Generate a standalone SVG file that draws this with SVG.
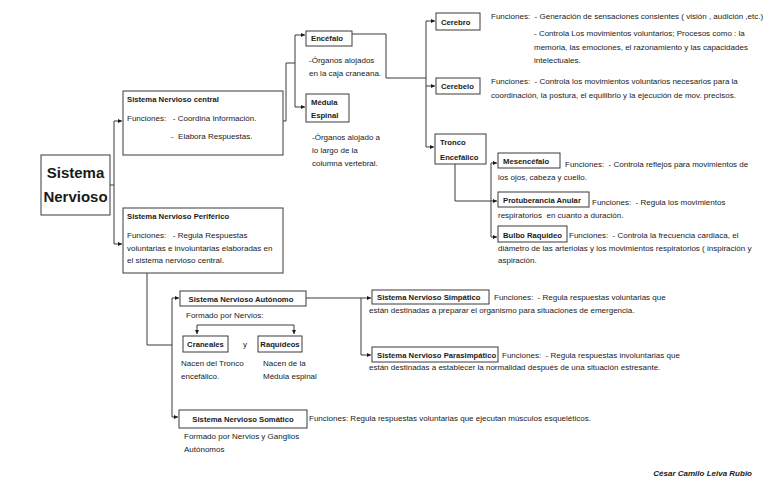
<svg xmlns="http://www.w3.org/2000/svg" width="768" height="497" viewBox="0 0 768 497">
<style>
text{font-family:"Liberation Sans",Arial,sans-serif;font-size:8px;fill:#1a1a1a;white-space:pre}
.b{font-weight:bold;font-size:7.7px}
.big{font-weight:bold;font-size:15px;text-anchor:middle}
.m{text-anchor:middle}
.sig{font-weight:bold;font-style:italic;text-anchor:end}
.box{fill:#fff;stroke:#3a3a3a;stroke-width:1}
.ln{fill:none;stroke:#3a3a3a;stroke-width:1}
.ar{marker-end:url(#ah)}
</style>
<defs>
<marker id="ah" markerWidth="5" markerHeight="5" refX="4" refY="2.5" orient="auto" markerUnits="userSpaceOnUse">
<path d="M0,0.5 L4,2.5 L0,4.5 z" fill="#1a1a1a"/>
</marker>
</defs>
<rect width="768" height="497" fill="#fff"/>
<g id="connectors">
<path class="ln" d="M110,185 H114"/>
<path class="ln ar" d="M114,185 V121 H122"/>
<path class="ln ar" d="M114,185 V244 H122"/>
<path class="ln ar" d="M283,121 H286 V63 H295 V35 H305"/>
<path class="ln ar" d="M295,63 V107 H305"/>
<path class="ln" d="M352,34 H386 V78 H426"/>
<path class="ln ar" d="M426,78 V21 H435"/>
<path class="ln ar" d="M426,78 V86 H435"/>
<path class="ln ar" d="M426,86 V147 H434"/>
<path class="ln" d="M455,164 V201 H491"/>
<path class="ln ar" d="M491,201 V163 H497"/>
<path class="ln ar" d="M491,201 H497"/>
<path class="ln ar" d="M491,201 V237 H497"/>
<path class="ln" d="M147,273 V345 H172"/>
<path class="ln ar" d="M172,345 V298 H179"/>
<path class="ln ar" d="M172,345 V417 H178"/>
<path class="ln ar" d="M245,325 H197 V334"/>
<path class="ln ar" d="M245,325 H294 V334"/>
<path class="ln ar" d="M306,298 H371"/>
<path class="ln ar" d="M361,298 V355 H371"/>
</g>
<g id="sistema-nervioso">
<rect class="box" x="41" y="155" width="69" height="60"/>
<text class="big" x="75.5" y="178">Sistema</text>
<text class="big" x="75.5" y="202">Nervioso</text>
</g>
<g id="snc">
<rect class="box" x="123" y="91" width="160" height="64"/>
<text class="b" x="127" y="102">Sistema Nervioso central</text>
<text x="127" y="121">Funciones:   - Coordina Información.</text>
<text x="171" y="139">-  Elabora Respuestas.</text>
</g>
<g id="encefalo">
<rect class="box" x="306" y="31" width="46" height="15"/>
<text class="b" x="311" y="41">Encéfalo</text>
<text x="309" y="63">-Órganos alojados</text>
<text x="309" y="76">en la caja craneana.</text>
</g>
<g id="medula">
<rect class="box" x="306" y="94" width="43" height="28"/>
<text class="b" x="311" y="105">Médula</text>
<text class="b" x="311" y="118">Espinal</text>
<text x="312" y="140">-Órganos alojado a</text>
<text x="312" y="153">lo largo de la</text>
<text x="312" y="166">columna vertebral.</text>
</g>
<g id="cerebro">
<rect class="box" x="436" y="13" width="44" height="17"/>
<text class="b" x="441" y="25">Cerebro</text>
<text x="491" y="19">Funciones:  - Generación de sensaciones consientes ( visión , audición ,etc.)</text>
<text x="534" y="36">- Controla Los movimientos voluntarios; Procesos como : la</text>
<text x="534" y="50">memoria, las emociones, el razonamiento y las capacidades</text>
<text x="534" y="63">intelectuales.</text>
</g>
<g id="cerebelo">
<rect class="box" x="436" y="78" width="44" height="16"/>
<text class="b" x="441" y="89">Cerebelo</text>
<text x="491" y="84">Funciones:  - Controla los movimientos voluntarios necesarios para la</text>
<text x="491" y="98">coordinación, la postura, el equilibrio y la ejecución de mov. precisos.</text>
</g>
<g id="tronco">
<rect class="box" x="435" y="134" width="51" height="30"/>
<text class="b" x="440" y="145">Tronco</text>
<text class="b" x="440" y="160">Encefálico</text>
</g>
<g id="mesencefalo">
<rect class="box" x="498" y="153" width="62" height="15"/>
<text class="b" x="503" y="164">Mesencéfalo</text>
<text x="565" y="167">Funciones:  - Controla reflejos para movimientos de</text>
<text x="498" y="180">los ojos, cabeza y cuello.</text>
</g>
<g id="protuberancia">
<rect class="box" x="498" y="192" width="91" height="15"/>
<text class="b" x="503" y="203">Protuberancia Anular</text>
<text x="592" y="205">Funciones:  - Regula los movimientos</text>
<text x="498" y="218">respiratorios  en cuanto a duración.</text>
</g>
<g id="bulbo">
<rect class="box" x="498" y="226" width="69" height="16"/>
<text class="b" x="503" y="238">Bulbo Raquideo</text>
<text x="569" y="238">Funciones:  - Controla la frecuencia cardiaca, el</text>
<text x="498" y="251">diámetro de las arteriolas y los movimientos respiratorios ( inspiración y</text>
<text x="498" y="263">aspiración.</text>
</g>
<g id="snp">
<rect class="box" x="123" y="208" width="160" height="65"/>
<text class="b" x="127" y="219">Sistema Nervioso Periférico</text>
<text x="127" y="238">Funciones:   - Regula Respuestas</text>
<text x="127" y="251">voluntarias e involuntarias elaboradas en</text>
<text x="127" y="263">el sistema nervioso central.</text>
</g>
<g id="sna">
<rect class="box" x="180" y="291" width="126" height="15"/>
<text class="b m" x="241" y="302">Sistema Nervioso Autónomo</text>
<text x="186" y="318">Formado por Nervios:</text>
</g>
<g id="craneales">
<rect class="box" x="183" y="336" width="45" height="16"/>
<text class="b m" x="205.5" y="347">Craneales</text>
<text x="243" y="347">y</text>
<text x="181" y="366">Nacen del Tronco</text>
<text x="181" y="379">encefálico.</text>
</g>
<g id="raquideos">
<rect class="box" x="258" y="336" width="44" height="16"/>
<text class="b m" x="280" y="347">Raquídeos</text>
<text x="263" y="366">Nacen de la</text>
<text x="263" y="379">Médula espinal</text>
</g>
<g id="simpatico">
<rect class="box" x="372" y="290" width="117" height="14"/>
<text class="b" x="377" y="300">Sistema Nervioso Simpático</text>
<text x="494" y="300">Funciones:  - Regula respuestas voluntarias que</text>
<text x="369" y="313">están destinadas a preparar el organismo para situaciones de emergencia.</text>
</g>
<g id="parasimpatico">
<rect class="box" x="372" y="347" width="126" height="15"/>
<text class="b" x="377" y="358">Sistema Nervioso Parasimpático</text>
<text x="502" y="358">Funciones:  - Regula respuestas involuntarias que</text>
<text x="369" y="370">están destinadas a establecer la normalidad después de una situación estresante.</text>
</g>
<g id="somatico">
<rect class="box" x="179" y="410" width="128" height="18"/>
<text class="b m" x="243" y="422">Sistema Nervioso Somático</text>
<text x="309" y="421">Funciones: Regula respuestas voluntarias que ejecutan músculos esqueléticos.</text>
<text x="184" y="439">Formado por Nervios y Ganglios</text>
<text x="184" y="452">Autónomos</text>
</g>
<g id="firma">
<text class="sig" x="752" y="476">César Camilo Leiva Rubio</text>
</g>
</svg>
